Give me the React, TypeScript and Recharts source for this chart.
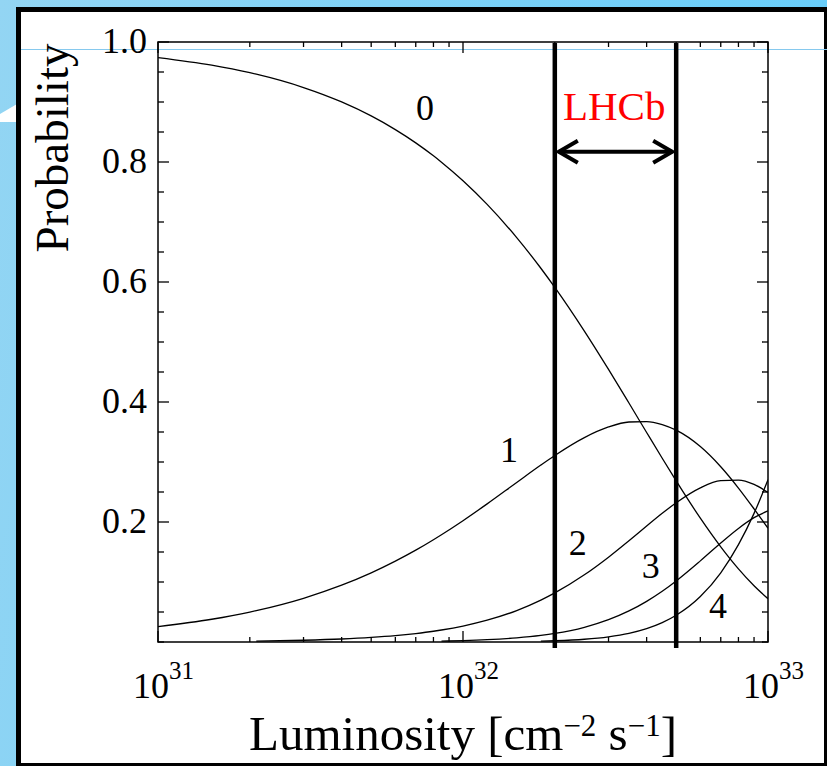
import React from "react";
import {
  LineChart,
  Line,
  XAxis,
  YAxis,
  ReferenceLine,
  ReferenceDot,
  ReferenceArea,
  Label,
} from "recharts";

// ---- data (luminosity in cm^-2 s^-1, probabilities) ----
const luminosity = [
  1e31, 1.5e31, 2e31, 2.1e31, 3e31, 4e31, 5e31, 6e31, 7e31, 8e31, 8.5e31,
  1e32, 1.2e32, 1.5e32, 1.8e32, 2e32, 2.5e32, 3e32, 3.5e32, 4e32, 4.5e32,
  5e32, 6e32, 7e32, 8e32, 9e32, 1e33,
];
const prob0 = [
  0.974, 0.9613, 0.9488, 0.9463, 0.9241, 0.9001, 0.8768, 0.854, 0.8319, 0.8103,
  0.7997, 0.7687, 0.7293, 0.674, 0.6229, 0.591, 0.5182, 0.4543, 0.3983, 0.3492,
  0.3062, 0.2685, 0.2064, 0.1587, 0.122, 0.0938, 0.0721,
];
const prob1 = [
  0.0256, 0.0379, 0.0499, 0.0523, 0.0729, 0.0947, 0.1153, 0.1348, 0.1531, 0.1705,
  0.1788, 0.2022, 0.2302, 0.2659, 0.2949, 0.3109, 0.3407, 0.3584, 0.3667, 0.3674,
  0.3624, 0.353, 0.3257, 0.2921, 0.2566, 0.2219, 0.1896,
];
const prob2 = [
  null, null, null, 0.0014, 0.0029, 0.005, 0.0076, 0.0106, 0.0141, 0.0179,
  0.02, 0.0266, 0.0363, 0.0524, 0.0698, 0.0818, 0.112, 0.1414, 0.1688, 0.1933,
  0.2145, 0.2321, 0.257, 0.2689, 0.2699, 0.2627, 0.2493,
];
const prob3 = [
  null, null, null, null, null, null, null, null, null, null,
  0.0015, 0.0023, 0.0038, 0.0069, 0.011, 0.0143, 0.0245, 0.0372, 0.0518, 0.0678,
  0.0846, 0.1018, 0.1352, 0.165, 0.1893, 0.2072, 0.2185,
];
const prob4 = [
  null, null, null, null, null, null, null, null, null, null,
  null, null, null, null, 0.0014, 0.0021, 0.0046, 0.0087, 0.0145, 0.0223,
  0.0323, 0.0446, 0.0758, 0.1154, 0.1622, 0.2144, 0.2705,
];

// ---- ticks ----
const xTicks = [
  1e31, 2e31, 3e31, 4e31, 5e31, 6e31, 7e31, 8e31, 9e31,
  1e32, 2e32, 3e32, 4e32, 5e32, 6e32, 7e32, 8e32, 9e32, 1e33,
];
const xMajorTicks = [1e31, 1e32, 1e33];
const xMajorExponents = ["31", "32", "33"];
const yTicks = [
  0, 0.05, 0.1, 0.15, 0.2, 0.25, 0.3, 0.35, 0.4, 0.45, 0.5,
  0.55, 0.6, 0.65, 0.7, 0.75, 0.8, 0.85, 0.9, 0.95, 1,
];
const yMajorTicks = [0.2, 0.4, 0.6, 0.8, 1.0];
const yMajorLabels = ["0.2", "0.4", "0.6", "0.8", "1.0"];

// ---- annotations ----
const lhcbRange = [2e32, 5e32];
const lhcbArrowY = 0.817;
const lhcbText = "LHCb";
const lhcbTextPos = { x: 3.13e32, y: 0.895 };
const curveLabels = ["0", "1", "2", "3", "4"];
const curveLabelX = [7.5e31, 1.415e32, 2.38e32, 4.13e32, 6.86e32];
const curveLabelY = [0.892, 0.322, 0.167, 0.128, 0.061];
const seriesKeys = ["p0", "p1", "p2", "p3", "p4"];

const data = luminosity.map((L, i) => ({
  L,
  p0: prob0[i],
  p1: prob1[i],
  p2: prob2[i],
  p3: prob3[i],
  p4: prob4[i],
}));

const FONT = "'Liberation Serif', 'Times New Roman', Times, serif";
const PLOT_W = 610;
const PLOT_H = 600;

const XTick = (props: any) => {
  const { x, y, payload } = props;
  const v = payload.value;
  const idx = xMajorTicks.findIndex((m) => Math.abs(m - v) / m < 1e-9);
  const len = idx >= 0 ? 11 : 5;
  return (
    <g>
      <line x1={x} y1={y} x2={x} y2={y - len} stroke="#000" strokeWidth={1.3} />
      <line x1={x} y1={y - PLOT_H} x2={x} y2={y - PLOT_H + len} stroke="#000" strokeWidth={1.3} />
      {idx >= 0 && (
        <text x={x - 25} y={y + 56} fontSize={36} fontFamily={FONT} fill="#000">
          10
          <tspan dy={-19} fontSize={25}>
            {xMajorExponents[idx]}
          </tspan>
        </text>
      )}
    </g>
  );
};

const YTick = (props: any) => {
  const { x, y, payload } = props;
  const v = payload.value;
  const idx = yMajorTicks.findIndex((m) => Math.abs(m - v) < 1e-9);
  const len = idx >= 0 ? 11 : 6;
  return (
    <g>
      <line x1={x} y1={y} x2={x + len} y2={y} stroke="#000" strokeWidth={1.3} />
      <line x1={x + PLOT_W} y1={y} x2={x + PLOT_W - len} y2={y} stroke="#000" strokeWidth={1.3} />
      {idx >= 0 && (
        <text x={x - 11} y={y + 11} textAnchor="end" fontSize={36} fontFamily={FONT} fill="#000">
          {yMajorLabels[idx]}
        </text>
      )}
    </g>
  );
};

const XTitle = (props: any) => {
  const vb = props.viewBox || { x: 158, y: 642, width: 610, height: 100 };
  const cx = vb.x + vb.width / 2;
  return (
    <text x={cx} y={vb.y + 108} textAnchor="middle" fontSize={49} fontFamily={FONT} fill="#000">
      Luminosity [cm
      <tspan dy={-14} fontSize={31}>−2</tspan>
      <tspan dy={14}> s</tspan>
      <tspan dy={-14} fontSize={31}>−1</tspan>
      <tspan dy={14}>]</tspan>
    </text>
  );
};

const YTitle = (props: any) => {
  const vb = props.viewBox || { x: 18, y: 42, width: 140, height: 600 };
  const tx = vb.x + 50;
  const ty = vb.y + 106;
  return (
    <text
      x={tx}
      y={ty}
      textAnchor="middle"
      fontSize={47}
      fontFamily={FONT}
      fill="#000"
      transform={`rotate(-90 ${tx} ${ty})`}
    >
      Probability
    </text>
  );
};

const ThickLine = (p: any) => {
  const top = Math.min(p.y1, p.y2);
  const bottom = Math.max(p.y1, p.y2);
  return <line x1={p.x1} y1={top + 1} x2={p.x2} y2={bottom + 6} stroke="#000" strokeWidth={4.5} />;
};

const ArrowShape = (p: any) => {
  const left = Math.min(p.x1, p.x2) + 4;
  const right = Math.max(p.x1, p.x2) - 4;
  const y = p.y1;
  return (
    <g stroke="#000" strokeWidth={4} fill="none">
      <line x1={left} y1={y} x2={right} y2={y} />
      <polyline points={`${left + 19},${y - 11} ${left},${y} ${left + 19},${y + 11}`} />
      <polyline points={`${right - 19},${y - 11} ${right},${y} ${right - 19},${y + 11}`} />
    </g>
  );
};

export default function App() {
  return (
    <div
      style={{
        position: "absolute",
        left: 0,
        top: 0,
        width: 827,
        height: 766,
        overflow: "hidden",
        background: "linear-gradient(100deg, #93d5f3 0%, #7fd1f6 40%, #62ccfa 100%)",
      }}
    >
      <svg width={30} height={140} style={{ position: "absolute", left: 0, top: 0 }}>
        <polygon points="0,114 17,104 17,122 0,122" fill="#ffffff" />
      </svg>
      <div
        style={{
          position: "absolute",
          left: 16,
          top: 7,
          width: 813,
          height: 761,
          boxSizing: "border-box",
          border: "5px solid #000",
          background: "#ffffff",
        }}
      />
      <div
        style={{
          position: "absolute",
          left: 21,
          top: 49,
          width: 806,
          height: 1,
          background: "#86c9ee",
        }}
      />
      <div style={{ position: "absolute", left: 0, top: 0 }}>
        <LineChart
          width={827}
          height={766}
          data={data}
          margin={{ top: 42, right: 59, bottom: 24, left: 18 }}
        >
          <XAxis
            dataKey="L"
            type="number"
            scale="log"
            domain={[1e31, 1e33]}
            ticks={xTicks}
            interval={0}
            tickSize={0}
            tickMargin={0}
            axisLine={false}
            tickLine={false}
            tick={<XTick />}
            height={100}
            allowDataOverflow
          >
            <Label content={<XTitle />} />
          </XAxis>
          <YAxis
            type="number"
            domain={[0, 1]}
            ticks={yTicks}
            interval={0}
            tickSize={0}
            tickMargin={0}
            axisLine={false}
            tickLine={false}
            tick={<YTick />}
            width={140}
            allowDataOverflow
          >
            <Label content={<YTitle />} />
          </YAxis>
          <ReferenceArea
            x1={1e31}
            x2={1e33}
            y1={0}
            y2={1}
            fill="none"
            stroke="#000"
            strokeWidth={1.5}
            ifOverflow="visible"
          />
          {seriesKeys.map((k) => (
            <Line
              key={k}
              dataKey={k}
              type="monotone"
              stroke="#000"
              strokeWidth={1.3}
              dot={false}
              activeDot={false}
              connectNulls={false}
              isAnimationActive={false}
            />
          ))}
          {lhcbRange.map((v) => (
            <ReferenceLine key={v} x={v} stroke="#000" strokeWidth={4.5} shape={<ThickLine />} ifOverflow="visible" />
          ))}
          <ReferenceLine
            segment={[
              { x: lhcbRange[0], y: lhcbArrowY },
              { x: lhcbRange[1], y: lhcbArrowY },
            ]}
            shape={<ArrowShape />}
            ifOverflow="visible"
          />
          <ReferenceDot x={lhcbTextPos.x} y={lhcbTextPos.y} r={0} fill="none" stroke="none">
            <Label value={lhcbText} position="center" fontSize={41} fontFamily={FONT} fill="#ff0000" />
          </ReferenceDot>
          {curveLabels.map((t, i) => (
            <ReferenceDot key={t} x={curveLabelX[i]} y={curveLabelY[i]} r={0} fill="none" stroke="none">
              <Label value={t} position="center" fontSize={36} fontFamily={FONT} fill="#000" />
            </ReferenceDot>
          ))}
        </LineChart>
      </div>
    </div>
  );
}
